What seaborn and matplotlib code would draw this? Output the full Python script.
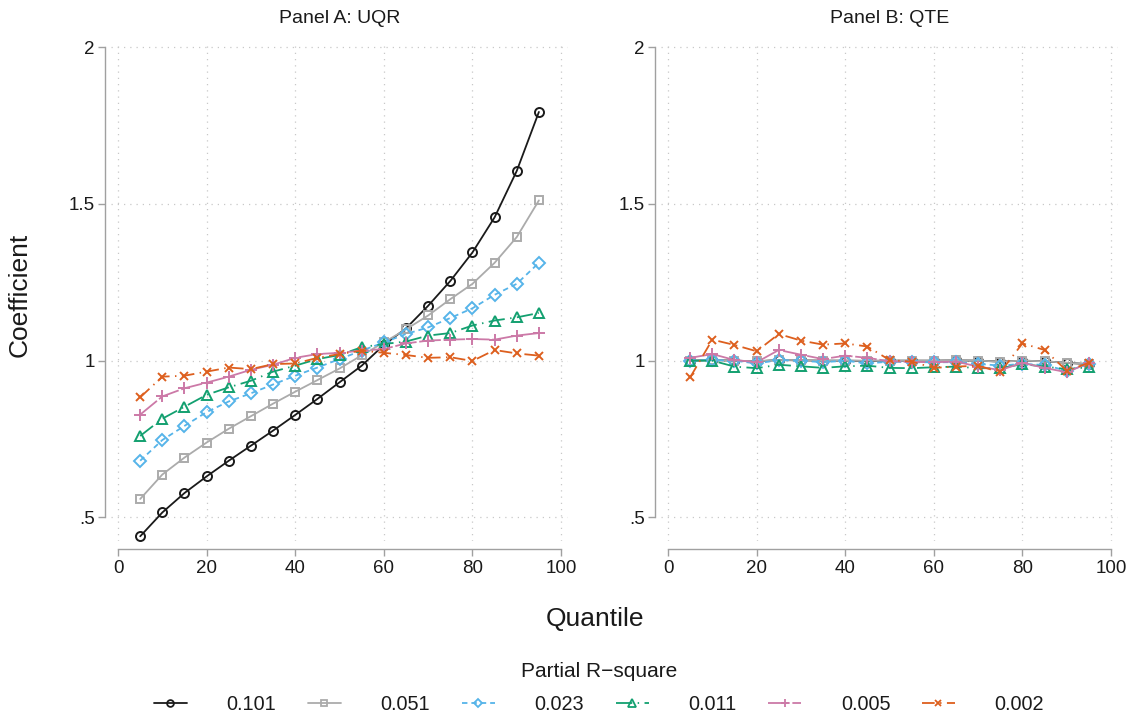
import numpy as np
import pandas as pd
import matplotlib
matplotlib.use("Agg")
import matplotlib.pyplot as plt
import seaborn as sns
from matplotlib.lines import Line2D

quantiles = [5, 10, 15, 20, 25, 30, 35, 40, 45, 50, 55, 60, 65, 70, 75, 80, 85, 90, 95]
series_labels = ["0.101", "0.051", "0.023", "0.011", "0.005", "0.002"]

uqr_0101 = [0.440, 0.516, 0.578, 0.631, 0.681, 0.729, 0.777, 0.827, 0.878, 0.931, 0.984, 1.050, 1.103, 1.175, 1.254, 1.345, 1.457, 1.605, 1.793]
uqr_0051 = [0.559, 0.637, 0.691, 0.739, 0.783, 0.823, 0.863, 0.901, 0.938, 0.975, 1.017, 1.058, 1.100, 1.144, 1.196, 1.245, 1.312, 1.394, 1.511]
uqr_0023 = [0.681, 0.747, 0.792, 0.836, 0.870, 0.896, 0.924, 0.952, 0.978, 1.005, 1.032, 1.058, 1.085, 1.106, 1.136, 1.167, 1.210, 1.245, 1.312]
uqr_0011 = [0.760, 0.815, 0.853, 0.891, 0.915, 0.936, 0.965, 0.984, 1.005, 1.018, 1.043, 1.053, 1.061, 1.080, 1.088, 1.112, 1.128, 1.138, 1.152]
uqr_0005 = [0.828, 0.886, 0.912, 0.930, 0.949, 0.971, 0.987, 1.009, 1.021, 1.025, 1.032, 1.037, 1.055, 1.064, 1.067, 1.069, 1.067, 1.080, 1.088]
uqr_0002 = [0.883, 0.949, 0.952, 0.965, 0.978, 0.973, 0.989, 0.991, 1.009, 1.021, 1.032, 1.025, 1.018, 1.009, 1.011, 0.999, 1.034, 1.023, 1.016]

qte_0101 = [1.000, 1.002, 1.000, 0.998, 1.002, 1.001, 1.000, 1.000, 0.999, 1.000, 1.000, 1.000, 1.001, 1.000, 0.997, 1.000, 0.998, 0.993, 0.989]
qte_0051 = [1.000, 1.002, 1.000, 0.998, 1.002, 1.002, 1.000, 1.000, 1.000, 1.000, 1.000, 1.000, 1.002, 1.000, 0.997, 1.000, 0.998, 0.993, 0.989]
qte_0023 = [1.000, 1.002, 1.000, 0.991, 1.002, 1.000, 0.995, 1.000, 0.991, 0.997, 0.995, 0.995, 0.995, 0.990, 0.984, 0.990, 0.986, 0.968, 0.988]
qte_0011 = [1.000, 1.000, 0.981, 0.976, 0.987, 0.982, 0.977, 0.982, 0.984, 0.977, 0.976, 0.979, 0.981, 0.976, 0.976, 0.989, 0.981, 0.973, 0.979]
qte_0005 = [1.009, 1.021, 1.002, 0.995, 1.034, 1.019, 1.005, 1.016, 1.009, 0.998, 0.996, 0.995, 0.997, 0.981, 0.970, 0.993, 0.977, 0.963, 0.993]
qte_0002 = [0.947, 1.067, 1.050, 1.030, 1.085, 1.064, 1.051, 1.055, 1.045, 1.002, 0.997, 0.977, 0.981, 0.984, 0.963, 1.055, 1.034, 0.968, 0.993]

panel_titles = ["Panel A: UQR", "Panel B: QTE"]
x_ticks = [0, 20, 40, 60, 80, 100]
y_ticks = [0.5, 1.0, 1.5, 2.0]
y_ticklabels = [".5", "1", "1.5", "2"]

colors = {"0.101": "#1a1a1a", "0.051": "#ababab", "0.023": "#56B4E9",
          "0.011": "#13a070", "0.005": "#CC79A7", "0.002": "#DD5F1E"}
markers = {"0.101": "o", "0.051": "s", "0.023": "D", "0.011": "^", "0.005": "+", "0.002": "x"}
dashes = {"0.101": "", "0.051": "", "0.023": (3, 2.2),
          "0.011": (9, 3, 0.8, 3), "0.005": (12, 1.5), "0.002": (7, 3, 0.8, 3)}
msizes = {"0.101": 6.5, "0.051": 6.0, "0.023": 6.0, "0.011": 7.0, "0.005": 8.5, "0.002": 6.0}

def long_df(arrs):
    rows = []
    for lab, arr in zip(series_labels, arrs):
        for q, v in zip(quantiles, arr):
            rows.append({"Quantile": q, "Coefficient": v, "r2": lab})
    return pd.DataFrame(rows)

df_a = long_df([uqr_0101, uqr_0051, uqr_0023, uqr_0011, uqr_0005, uqr_0002])
df_b = long_df([qte_0101, qte_0051, qte_0023, qte_0011, qte_0005, qte_0002])

sns.set_theme(style="white")
plt.rcParams["font.family"] = ["Liberation Sans", "DejaVu Sans"]

W, H = 1132, 716
fig = plt.figure(figsize=(W / 100, H / 100), dpi=100)

def px_axes(l, r, t, b):
    return fig.add_axes([l / W, 1 - b / H, (r - l) / W, (b - t) / H])

axA = px_axes(111.4, 567.7, 42, 541)
axB = px_axes(661.4, 1117.7, 42, 541)

for ax, df, title in [(axA, df_a, panel_titles[0]), (axB, df_b, panel_titles[1])]:
    sns.lineplot(data=df, x="Quantile", y="Coefficient", hue="r2", style="r2",
                 palette=colors, markers=False, dashes=dashes,
                 hue_order=series_labels, style_order=series_labels,
                 linewidth=1.3, ax=ax, legend=False, zorder=3)
    for line, lab in zip(ax.lines, series_labels):
        c = colors[lab]
        line.set_marker(markers[lab])
        line.set_markerfacecolor("none")
        line.set_markeredgecolor(c)
        line.set_markeredgewidth(1.4)
        line.set_markersize(msizes[lab])
    ax.set_xlim(-1.5, 101.5)
    ax.set_ylim(0.425, 2.016)
    ax.set_xticks(x_ticks)
    ax.set_yticks(y_ticks)
    ax.set_yticklabels(y_ticklabels)
    ax.grid(True, color="#c8c8c8", linestyle=(0, (1, 4)), linewidth=0.9)
    ax.set_axisbelow(True)
    sns.despine(ax=ax, offset={"left": 4.5, "bottom": 6}, trim=False)
    ax.spines["left"].set_bounds(0.5, 2.0)
    ax.spines["bottom"].set_bounds(0, 100)
    for s in ["left", "bottom"]:
        ax.spines[s].set_color("#a0a0a0")
        ax.spines[s].set_linewidth(1.0)
    ax.tick_params(axis="both", which="both", direction="out", length=5, width=1.0,
                   color="#a0a0a0", labelsize=13.5, labelcolor="#1a1a1a", pad=2.5,
                   left=True, bottom=True)
    ax.set_xlabel("")
    ax.set_ylabel("")
    ax.set_title(title, fontsize=14, color="#1a1a1a", pad=13.5)

fig.text(20 / W, 1 - 295 / H, "Coefficient", rotation=90, fontsize=19,
         ha="center", va="center", color="#1a1a1a")
fig.text(595 / W, 1 - 619 / H, "Quantile", fontsize=19, ha="center", va="center",
         color="#1a1a1a")

handles = []
for lab in series_labels:
    h = Line2D([0], [0], color=colors[lab], linewidth=1.3,
               marker=markers[lab], markersize=msizes[lab] * 0.75,
               markerfacecolor="none", markeredgecolor=colors[lab],
               markeredgewidth=1.3)
    if dashes[lab]:
        h.set_dashes(dashes[lab])
    handles.append(h)

leg = fig.legend(handles, series_labels, loc="center", bbox_to_anchor=(599 / W, 1 - 688 / H),
                 ncol=6, frameon=False, fontsize=14.3, title="Partial R\u2212square",
                 title_fontsize=15, handlelength=1.65, handletextpad=2.0,
                 columnspacing=1.6, labelspacing=0.75, labelcolor="#1a1a1a")
leg.get_title().set_color("#1a1a1a")

fig.savefig("out.png", dpi=100)
